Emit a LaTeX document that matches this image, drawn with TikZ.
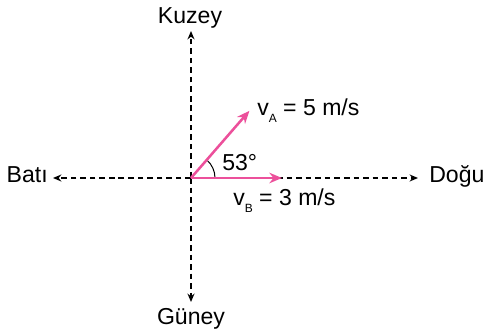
\documentclass[tikz,border=0pt]{standalone}
\usepackage{fontspec}
\setmainfont{Liberation Sans}
\usetikzlibrary{arrows.meta}
\definecolor{vpink}{RGB}{236,80,155}

\begin{document}
\begin{tikzpicture}[x=0.025cm,y=0.025cm,font=\fontsize{16.4}{19}\selectfont,
    axis/.style={line width=1.1pt,dash pattern=on 4pt off 2.8pt,
      -{Stealth[length=6pt,width=5pt]}},
    vec/.style={vpink,line width=1.8pt,-{Stealth[length=9pt,width=7.5pt]}},
    lbl/.style={inner sep=0pt}]
    \useasboundingbox (-191,-153) rectangle (295,178);
    \coordinate (O) at (0,0); \coordinate (N) at (0,147);
    \coordinate (S) at (0,-124); \coordinate (W) at (-138,0);
    \coordinate (E) at (227,0);
    \coordinate (A) at (49:89); \coordinate (B) at (91,0);
    \node[lbl,anchor=base] (K) at (-1,155) {Kuzey};
    \node[lbl,anchor=base] (G) at (0,-146) {Güney};
    \node[lbl,anchor=base east] (Bt) at (-143,-4) {Batı};
    \node[lbl,anchor=base west] (D) at (238,-4) {Doğu};
    \draw[axis] (O) -- (N); \draw[axis] (O) -- (S);
    \draw[axis] (O) -- (W); \draw[axis] (O) -- (E);
    \draw[line width=0.7pt] ([shift={(0:24)}]O) arc[start angle=0,
      end angle=49, radius=24];
    \draw[vec] (O) -- (A); \draw[vec] (O) -- (B);
    \node[lbl,anchor=base west] (VA) at (66,63)
    {v\raisebox{-5pt}{\fontsize{8.5}{9}\selectfont A} = 5 m/s};
    \node[lbl,anchor=base west] (VB) at (42,-27)
    {v\raisebox{-5pt}{\fontsize{8.5}{9}\selectfont B} = 3 m/s};
    \node[lbl,anchor=base west] (T) at (31,8) {53°};
  \end{tikzpicture}
\end{document}
